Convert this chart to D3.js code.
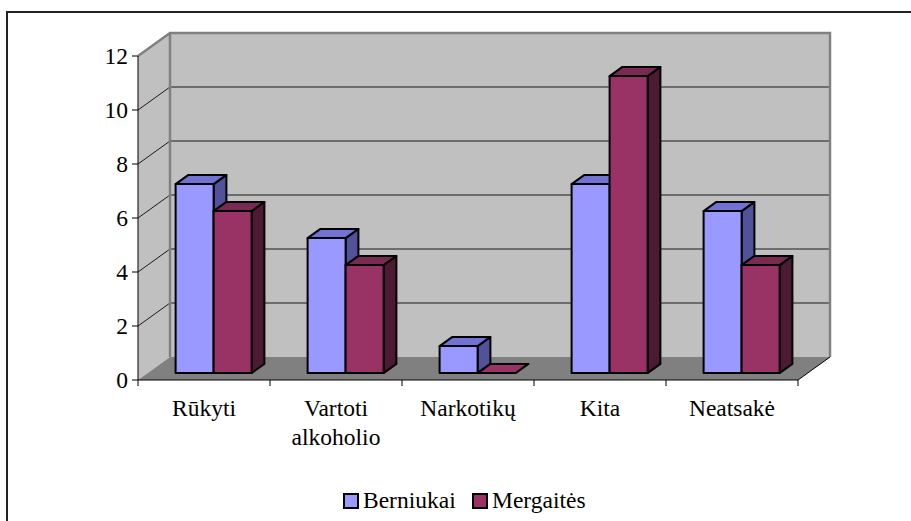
<!DOCTYPE html>
<html>
<head>
<meta charset="utf-8">
<script src="https://cdn.jsdelivr.net/npm/d3@7"></script>
<style>
  body { margin: 0; background: #fff; }
  svg { display: block; }
</style>
</head>
<body>
<script>
const categories = ["Rūkyti", "Vartoti alkoholio", "Narkotikų", "Kita", "Neatsakė"]
const seriesNames = ["Berniukai", "Mergaitės"]
const berniukai = [7, 5, 1, 7, 6]
const mergaites = [6, 4, 0, 11, 4]
const yTicks = [0, 2, 4, 6, 8, 10, 12]

const W = 911, H = 521
const FONT = 'Liberation Serif'
const FONT_SIZE = 23.5

const colors = {
    Berniukai: {front: '#9999ff', top: '#7272d4', side: '#52529a'},
    'Mergaitės': {front: '#993366', top: '#7a2952', side: '#4c1a33'}
}

// 3d depth of the plot box (front -> back wall)
const depth = {dx: 32, dy: -23}
const barFront = 0.3, barBack = 0.7

const x0 = d3.scaleBand().domain(categories).range([138, 798])
const x1 = d3.scaleBand().domain(seriesNames).range([0, x0.bandwidth()]).paddingOuter(0.737)
const y = d3.scaleLinear().domain([0, 12]).range([380, 56])

const svg = d3.select('body').append('svg')
    .attr('width', W)
    .attr('height', H)

const label = (sel) => sel
    .attr('font-family', FONT)
    .attr('font-size', FONT_SIZE)
    .attr('fill', '#000')

// chart border (runs off the right & bottom edge)
svg.append('rect')
    .attr('x', 7).attr('y', 12)
    .attr('width', 920).attr('height', 530)
    .attr('fill', 'none')
    .attr('stroke', '#222')
    .attr('stroke-width', 2)

const [xl, xr] = x0.range()
const [yb, yt] = y.range()
const pts = (arr) => arr.map(p => p.join(',')).join(' ')

// side wall
svg.append('polygon')
    .attr('points', pts([[xl, yb], [xl, yt], [xl + depth.dx, yt + depth.dy], [xl + depth.dx, yb + depth.dy]]))
    .attr('fill', '#c0c0c0')

// back wall
svg.append('rect')
    .attr('x', xl + depth.dx).attr('y', yt + depth.dy)
    .attr('width', xr - xl).attr('height', yb - yt)
    .attr('fill', '#c0c0c0')

// floor
svg.append('polygon')
    .attr('points', pts([[xl, yb], [xr, yb], [xr + depth.dx, yb + depth.dy], [xl + depth.dx, yb + depth.dy]]))
    .attr('fill', '#808080')

// gridlines
const grid = svg.append('g').attr('stroke', '#1a1a1a').attr('stroke-width', 1).attr('fill', 'none')
grid.selectAll('line.back')
    .data(yTicks.filter(d => d > 0 && d < 12))
    .join('line')
    .attr('x1', xl + depth.dx).attr('x2', xr + depth.dx)
    .attr('y1', d => y(d) + depth.dy).attr('y2', d => y(d) + depth.dy)
grid.selectAll('line.side')
    .data(yTicks.filter(d => d > 0 && d < 12))
    .join('line')
    .attr('class', 'side')
    .attr('x1', xl).attr('x2', xl + depth.dx)
    .attr('y1', d => y(d)).attr('y2', d => y(d) + depth.dy)

// wall outlines
svg.append('polyline')
    .attr('points', pts([[xl, yt], [xl + depth.dx, yt + depth.dy], [xr + depth.dx, yt + depth.dy], [xr + depth.dx, yb + depth.dy]]))
    .attr('fill', 'none').attr('stroke', '#808080').attr('stroke-width', 2.5)
svg.append('line')
    .attr('x1', xl + depth.dx).attr('x2', xl + depth.dx)
    .attr('y1', yt + depth.dy).attr('y2', yb + depth.dy)
    .attr('stroke', '#808080').attr('stroke-width', 2.5)
svg.append('line')
    .attr('x1', xr).attr('y1', yb)
    .attr('x2', xr + depth.dx).attr('y2', yb + depth.dy)
    .attr('stroke', '#000').attr('stroke-width', 1)

// bars
const rows = categories.flatMap((c, i) => [
    {cat: c, key: 'Berniukai', value: berniukai[i]},
    {cat: c, key: 'Mergaitės', value: mergaites[i]}
])

const ox = depth.dx * barFront, oy = depth.dy * barFront
const bdx = depth.dx * (barBack - barFront), bdy = depth.dy * (barBack - barFront)

const bar = svg.append('g')
    .attr('stroke', '#000')
    .attr('stroke-width', 2)
    .attr('stroke-linejoin', 'round')
    .selectAll('g')
    .data(rows)
    .join('g')

bar.each(function (d) {
    const g = d3.select(this)
    const xa = x0(d.cat) + x1(d.key) + ox
    const xb = xa + x1.bandwidth()
    const ya = y(d.value) + oy
    const yz = y(0) + oy
    const c = colors[d.key]
    if (d.value > 0) {
        g.append('polygon')
            .attr('points', pts([[xb, yz], [xb + bdx, yz + bdy], [xb + bdx, ya + bdy], [xb, ya]]))
            .attr('fill', c.side)
        g.append('rect')
            .attr('x', xa).attr('y', ya)
            .attr('width', xb - xa).attr('height', yz - ya)
            .attr('fill', c.front)
    }
    g.append('polygon')
        .attr('points', pts([[xa, ya], [xb, ya], [xb + bdx, ya + bdy], [xa + bdx, ya + bdy]]))
        .attr('fill', d.value > 0 ? c.top : c.front)
})

// y axis
const yAxis = svg.append('g')
yAxis.append('line')
    .attr('x1', xl).attr('x2', xl).attr('y1', yt).attr('y2', yb)
    .attr('stroke', '#000')
yAxis.selectAll('line.tick')
    .data(yTicks)
    .join('line')
    .attr('class', 'tick')
    .attr('x1', xl - 6).attr('x2', xl)
    .attr('y1', d => y(d)).attr('y2', d => y(d))
    .attr('stroke', '#000')
yAxis.selectAll('text')
    .data(yTicks)
    .join('text')
    .call(label)
    .attr('x', xl - 10)
    .attr('y', d => y(d) + 8)
    .attr('text-anchor', 'end')
    .text(d => d)

// x axis
const xAxis = svg.append('g')
xAxis.append('line')
    .attr('x1', xl).attr('x2', xr).attr('y1', yb).attr('y2', yb)
    .attr('stroke', '#000')
xAxis.selectAll('line.tick')
    .data(d3.range(categories.length + 1))
    .join('line')
    .attr('class', 'tick')
    .attr('x1', i => xl + i * x0.step()).attr('x2', i => xl + i * x0.step())
    .attr('y1', yb).attr('y2', yb + 6)
    .attr('stroke', '#000')
xAxis.selectAll('text')
    .data(categories)
    .join('text')
    .call(label)
    .attr('x', d => x0(d) + x0.bandwidth() / 2)
    .attr('y', 416)
    .attr('text-anchor', 'middle')
    .each(function (d) {
        const words = d.split(' ')
        d3.select(this).selectAll('tspan')
            .data(words)
            .join('tspan')
            .attr('x', x0(d) + x0.bandwidth() / 2)
            .attr('dy', (w, i) => i === 0 ? 0 : 29)
            .text(w => w)
    })

// legend
const legendItems = [
    {key: 'Berniukai', x: 343},
    {key: 'Mergaitės', x: 472}
]
const legend = svg.append('g')
    .selectAll('g')
    .data(legendItems)
    .join('g')
    .attr('transform', d => `translate(${d.x},493)`)
legend.append('rect')
    .attr('x', 1).attr('y', 1)
    .attr('width', 14).attr('height', 14)
    .attr('fill', d => colors[d.key].front)
    .attr('stroke', '#000')
    .attr('stroke-width', 2)
legend.append('text')
    .call(label)
    .attr('x', 20)
    .attr('y', 15)
    .text(d => d.key)
</script>
</body>
</html>
